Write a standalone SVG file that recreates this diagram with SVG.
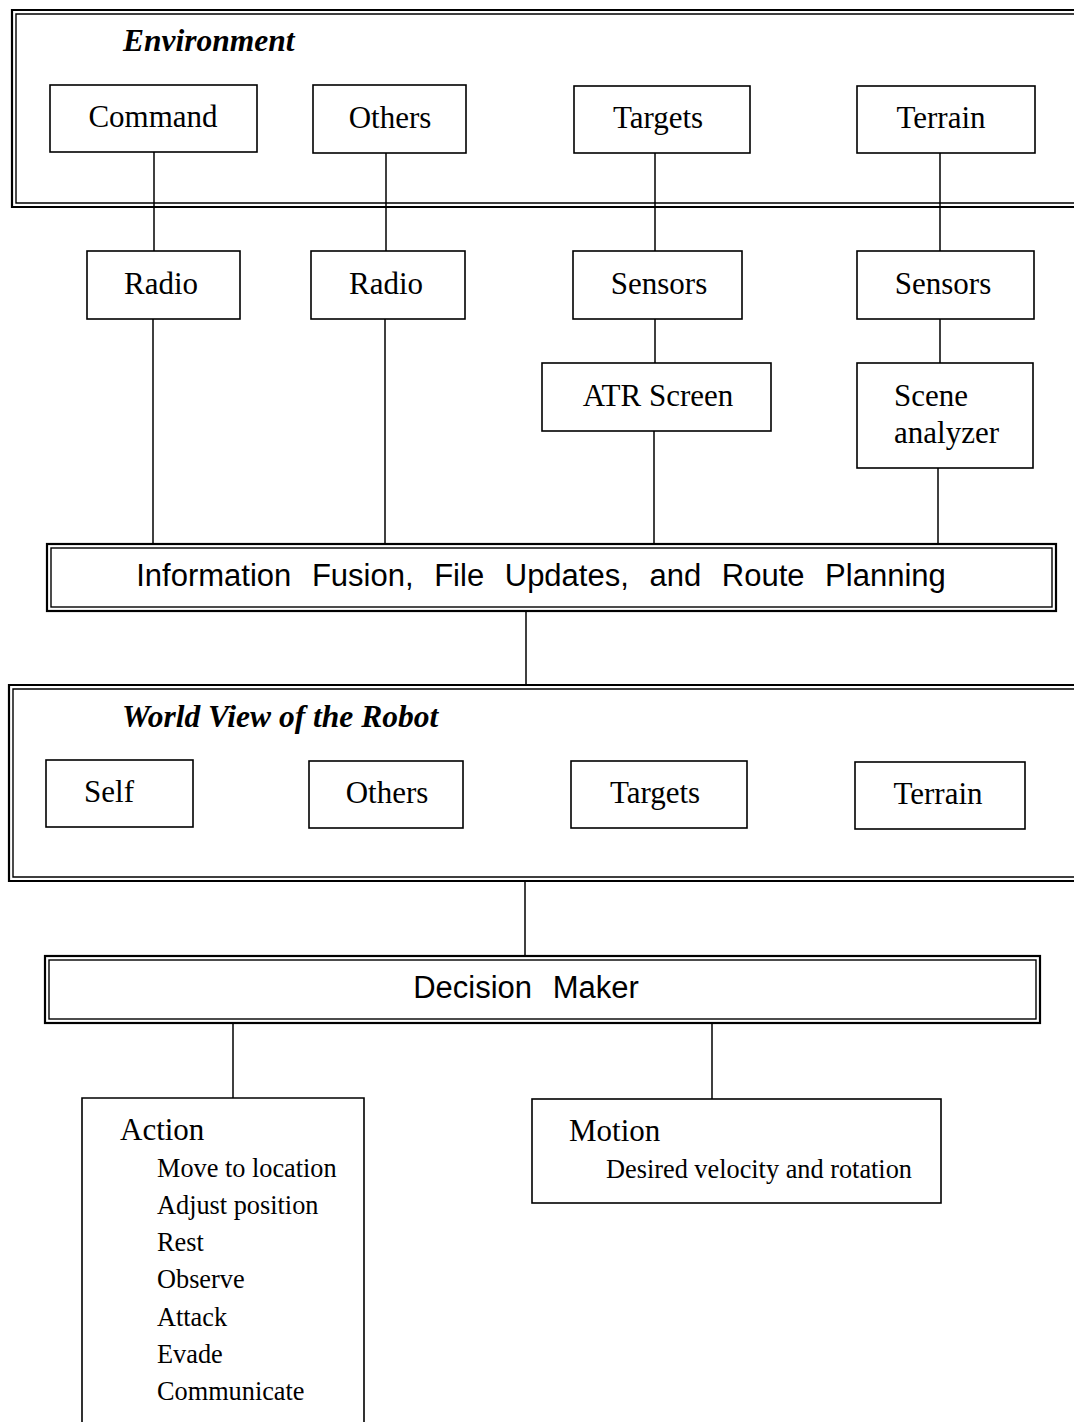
<svg xmlns="http://www.w3.org/2000/svg" width="1074" height="1422" viewBox="0 0 1074 1422">
<style>
.bx{fill:none;stroke:#000;stroke-width:1.6}
.fo{fill:none;stroke:#000;stroke-width:2.2}
.fi{fill:none;stroke:#000;stroke-width:1.4}
.ln{fill:none;stroke:#000;stroke-width:1.5}
.t{font-family:"Liberation Serif","Times New Roman",serif;font-size:31px;fill:#000}
.tc{text-anchor:middle}
.s{font-family:"Liberation Serif","Times New Roman",serif;font-size:26.3px;fill:#000}
.h{font-family:"Liberation Serif","Times New Roman",serif;font-size:31.5px;font-weight:bold;font-style:italic;fill:#000}
.a{font-family:"Liberation Sans",Arial,sans-serif;font-size:31px;fill:#000;text-anchor:middle}
</style>
<rect width="1074" height="1422" fill="#fff"/>
<g id="connectors">
<line class="ln" x1="154" y1="152" x2="154" y2="251"/>
<line class="ln" x1="386" y1="153" x2="386" y2="251"/>
<line class="ln" x1="655" y1="153" x2="655" y2="251"/>
<line class="ln" x1="940" y1="153" x2="940" y2="251"/>
<line class="ln" x1="655" y1="319" x2="655" y2="363"/>
<line class="ln" x1="940" y1="319" x2="940" y2="363"/>
<line class="ln" x1="153" y1="319" x2="153" y2="544"/>
<line class="ln" x1="385" y1="319" x2="385" y2="544"/>
<line class="ln" x1="654" y1="431" x2="654" y2="544"/>
<line class="ln" x1="938" y1="468" x2="938" y2="544"/>
<line class="ln" x1="526" y1="611" x2="526" y2="685"/>
<line class="ln" x1="525" y1="881" x2="525" y2="956"/>
<line class="ln" x1="233" y1="1023" x2="233" y2="1098"/>
<line class="ln" x1="712" y1="1023" x2="712" y2="1099"/>
</g>
<g id="environment">
<path class="fo" d="M1080,10 H12 V207 H1080"/>
<path class="fi" d="M1080,14 H16 V203 H1080"/>
<text class="h" x="123" y="51">Environment</text>
</g>
<g id="env-command"><rect class="bx" x="50" y="85" width="207" height="67"/><text class="t tc" x="153" y="127">Command</text></g>
<g id="env-others"><rect class="bx" x="313" y="85" width="153" height="68"/><text class="t tc" x="390" y="128">Others</text></g>
<g id="env-targets"><rect class="bx" x="574" y="86" width="176" height="67"/><text class="t tc" x="658" y="128">Targets</text></g>
<g id="env-terrain"><rect class="bx" x="857" y="86" width="178" height="67"/><text class="t tc" x="941" y="128">Terrain</text></g>
<g id="radio1"><rect class="bx" x="87" y="251" width="153" height="68"/><text class="t tc" x="161" y="294">Radio</text></g>
<g id="radio2"><rect class="bx" x="311" y="251" width="154" height="68"/><text class="t tc" x="386" y="294">Radio</text></g>
<g id="sensors1"><rect class="bx" x="573" y="251" width="169" height="68"/><text class="t tc" x="659" y="294">Sensors</text></g>
<g id="sensors2"><rect class="bx" x="857" y="251" width="177" height="68"/><text class="t tc" x="943" y="294">Sensors</text></g>
<g id="atr"><rect class="bx" x="542" y="363" width="229" height="68"/><text class="t tc" x="658" y="406">ATR Screen</text></g>
<g id="scene"><rect class="bx" x="857" y="363" width="176" height="105"/><text class="t" x="894" y="406">Scene</text><text class="t" x="894" y="443">analyzer</text></g>
<g id="fusion">
<rect class="fo" x="47" y="544" width="1009" height="67"/>
<rect class="fi" x="51" y="548" width="1001" height="59"/>
<text class="a" x="541" y="586" word-spacing="12">Information Fusion, File Updates, and Route Planning</text>
</g>
<g id="worldview">
<path class="fo" d="M1080,685 H9 V881 H1080"/>
<path class="fi" d="M1080,689 H13 V877 H1080"/>
<text class="h" x="122" y="727">World View of the Robot</text>
</g>
<g id="wv-self"><rect class="bx" x="46" y="760" width="147" height="67"/><text class="t tc" x="109" y="802">Self</text></g>
<g id="wv-others"><rect class="bx" x="309" y="761" width="154" height="67"/><text class="t tc" x="387" y="803">Others</text></g>
<g id="wv-targets"><rect class="bx" x="571" y="761" width="176" height="67"/><text class="t tc" x="655" y="803">Targets</text></g>
<g id="wv-terrain"><rect class="bx" x="855" y="762" width="170" height="67"/><text class="t tc" x="938" y="804">Terrain</text></g>
<g id="decision">
<rect class="fo" x="45" y="956" width="995" height="67"/>
<rect class="fi" x="49" y="960" width="987" height="59"/>
<text class="a" x="526" y="998" word-spacing="12">Decision Maker</text>
</g>
<g id="action">
<path class="bx" d="M82,1430 V1098 H364 V1430"/>
<text class="t" x="120" y="1140">Action</text>
<text class="s" x="157" y="1177">Move to location</text>
<text class="s" x="157" y="1214">Adjust position</text>
<text class="s" x="157" y="1251">Rest</text>
<text class="s" x="157" y="1288">Observe</text>
<text class="s" x="157" y="1326">Attack</text>
<text class="s" x="157" y="1363">Evade</text>
<text class="s" x="157" y="1400">Communicate</text>
</g>
<g id="motion">
<rect class="bx" x="532" y="1099" width="409" height="104"/>
<text class="t" x="569" y="1141">Motion</text>
<text class="s" x="606" y="1178">Desired velocity and rotation</text>
</g>
</svg>
